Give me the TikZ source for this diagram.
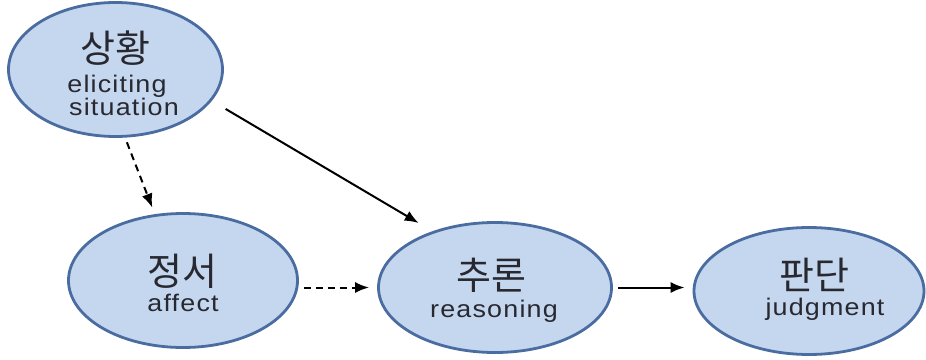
\documentclass[tikz,border=0pt]{standalone}
\usepackage{fontspec}
\newfontfamily\kofont{Noto Sans CJK KR}
\newfontfamily\enfont[FakeStretch=1.12,LetterSpace=5]{Liberation Sans}
\usetikzlibrary{shapes.geometric,arrows.meta}
\definecolor{bubblefill}{RGB}{197,215,238}
\definecolor{bubbleline}{RGB}{74,108,160}
\definecolor{labeltext}{RGB}{40,40,48}
\tikzset{
  bubble/.style={ellipse, draw=bubbleline, fill=bubblefill, line width=2.8pt, inner sep=0pt},
  kolabel/.style={font=\kofont\fontsize{38}{42}\selectfont, text=labeltext, inner sep=0pt},
  enlabel/.style={font=\enfont\fontsize{24}{28}\selectfont, text=labeltext, inner sep=0pt},
  link/.style={line width=2pt, -{Latex[length=14pt,width=11pt]}},
  dashlink/.style={link, dash pattern=on 7pt off 5pt}
}
\begin{document}
\begin{tikzpicture}[x=1pt,y=-1pt]
  \useasboundingbox (0,0) rectangle (926,359);

  % the four stages
  \node[bubble, minimum width=214pt, minimum height=134pt] (s) at (115.5,69.5) {};
  \node[bubble, minimum width=229pt, minimum height=134pt] (a) at (183,280.5) {};
  \node[bubble, minimum width=233pt, minimum height=130pt] (r) at (495,287.5) {};
  \node[bubble, minimum width=230pt, minimum height=127pt] (j) at (809,291) {};

  % labels
  \node[kolabel] (s1) at (115,48.5) {상황};
  \node[enlabel] (s2) at (117,86) {eliciting};
  \node[enlabel] (s3) at (124,107) {situation};
  \node[kolabel] (a1) at (182,271) {정서};
  \node[enlabel] (a2) at (183,302.5) {affect};
  \node[kolabel] (r1) at (491,275) {추론};
  \node[enlabel] (r2) at (494,311) {reasoning};
  \node[kolabel] (j1) at (814,275) {판단};
  \node[enlabel] (j2) at (825,309) {judgment};

  % connectors
  \draw[dashlink, shorten <=5pt, shorten >=7pt] (s.-82) -- (a.113);
  \draw[link, shorten <=16pt, shorten >=16pt] (s.-18) -- (r.138);
  \draw[dashlink, shorten <=5pt, shorten >=8pt] (r.west -| a.east) -- (r.west);
  \draw[link, shorten <=5pt, shorten >=8pt] (r.east) -- (r.east -| j.west);
\end{tikzpicture}
\end{document}
